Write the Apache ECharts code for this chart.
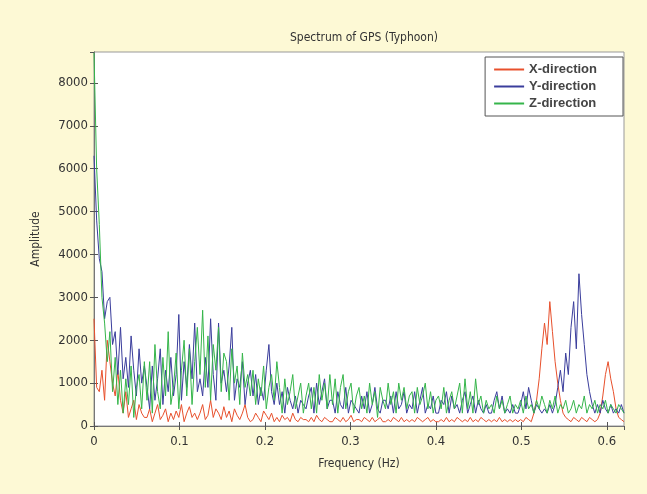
<!DOCTYPE html>
<html>
<head>
<meta charset="utf-8">
<style>
  html, body { margin: 0; padding: 0; background: #fdf9d5; }
  #chart { width: 647px; height: 494px; }
</style>
<script src="https://cdn.jsdelivr.net/npm/echarts@6/dist/echarts.min.js"></script>
</head>
<body>
<div id="chart"></div>
<script>
// frequency bin width (Hz), 201 bins from 0 to 0.62
var df = 0.0031

// X-direction amplitude, one row = 10 bins
var xDir = [
  2500, 900, 800, 1300, 600, 2000, 1500, 1000, 700, 1300,
  600, 300, 800, 200, 400, 600, 150, 500, 300, 200,
  200, 400, 100, 300, 500, 150, 250, 400, 100, 300,
  150, 350, 200, 500, 100, 300, 450, 200, 300, 150,
  300, 500, 150, 250, 600, 200, 400, 300, 150, 450,
  200, 350, 100, 400, 250, 150, 300, 500, 200, 100,
  150, 300, 200, 100, 350, 250, 150, 300, 100, 200,
  100, 250, 150, 200, 100, 300, 150, 100, 200, 150,
  150, 100, 200, 100, 250, 150, 100, 200, 150, 100,
  100, 200, 150, 100, 200, 100, 150, 250, 100, 150,
  150, 100, 200, 150, 100, 200, 100, 150, 200, 100,
  100, 150, 100, 200, 150, 100, 200, 100, 150, 100,
  150, 100, 200, 150, 100, 150, 200, 100, 150, 100,
  100, 150, 100, 200, 100, 150, 100, 200, 150, 100,
  150, 100, 200, 100, 150, 100, 200, 150, 100, 150,
  100, 150, 100, 200, 100, 150, 100, 150, 100, 150,
  100, 150, 100, 200, 150, 100, 300, 600, 1100, 1800,
  2400, 1900, 2900, 2200, 1500, 1000, 600, 300, 200, 150,
  100, 200, 150, 100, 200, 150, 100, 200, 150, 100,
  150, 300, 700, 1200, 1500, 1100, 800, 400, 200, 150,
  100
]

// Y-direction amplitude
var yDir = [
  6300, 4800, 3900, 3600, 2500, 2900, 3000, 1900, 2200, 1200,
  2300, 1100, 1600, 900, 2100, 1300, 700, 1800, 1000, 1400,
  900, 400, 1400, 600, 1100, 1800, 500, 1300, 800, 1600,
  700, 1200, 2600, 600, 1500, 900, 1900, 1100, 2400, 800,
  1100, 700, 1600, 900, 2500, 1200, 600, 2400, 1000, 1300,
  800, 1400, 2300, 600, 1100, 900, 1500, 500, 1000, 1300,
  700, 1200, 500, 900, 600, 1300, 1900, 800, 500, 1000,
  500, 800, 300, 900, 600, 400, 700, 300, 600, 500,
  400, 700, 900, 300, 1000, 500, 800, 1100, 400, 600,
  600, 300, 800, 500, 400, 900, 300, 600, 500, 400,
  300, 700, 400, 800, 300, 500, 900, 400, 300, 600,
  600, 400, 700, 300, 800, 400, 500, 800, 300, 500,
  400, 800, 300, 600, 900, 300, 500, 400, 700, 300,
  300, 600, 500, 800, 300, 700, 400, 500, 300, 600,
  800, 300, 500, 700, 300, 600, 400, 300, 500, 300,
  300, 600, 800, 400, 700, 300, 400, 300, 500, 300,
  300, 500, 800, 400, 900, 600, 300, 500, 400, 300,
  400, 300, 500, 300, 500, 900, 1300, 800, 1700, 1200,
  2300, 2900, 1800, 3550, 2600, 1900, 1200, 800, 500, 300,
  500, 300, 600, 400, 300, 500, 300, 400, 300, 500,
  300
]

// Z-direction amplitude
var zDir = [
  8700, 6000, 4700, 3000, 2400, 1500, 2200, 800, 1600, 500,
  1300, 300, 1100, 500, 1400, 200, 900, 1200, 400, 1500,
  600, 1500, 300, 1900, 800, 400, 1600, 700, 2200, 500,
  900, 1700, 400, 1300, 2000, 700, 1800, 500, 1500, 2300,
  1200, 2700, 900, 2100, 600, 1900, 1300, 2300, 800, 1700,
  1500, 600, 1800, 1000, 1400, 500, 1700, 900, 1200, 700,
  1300, 500, 1100, 700, 1400, 400, 900, 1200, 600, 1500,
  900, 300, 1100, 500, 800, 1200, 400, 700, 1000, 300,
  700, 1000, 400, 900, 300, 1200, 600, 1000, 400, 1200,
  500, 1100, 300, 900, 1200, 400, 800, 1000, 300, 700,
  900, 400, 700, 300, 1000, 500, 800, 200, 900, 600,
  400, 1000, 500, 800, 300, 1000, 600, 900, 400, 700,
  800, 300, 900, 500, 700, 1000, 400, 800, 300, 600,
  700, 400, 900, 300, 600, 800, 400, 700, 1000, 300,
  1100, 400, 800, 300, 1100, 500, 700, 300, 600, 400,
  500, 300, 700, 400, 600, 300, 500, 700, 300, 500,
  400, 600, 300, 700, 400, 500, 300, 600, 400, 700,
  500, 300, 600, 400, 700, 300, 500, 400, 600, 300,
  400, 600, 300, 500, 400, 700, 300, 500, 400, 600,
  300, 500, 400, 600, 300, 500, 400, 300, 500, 400,
  300
]

var seriesNames = ['X-direction', 'Y-direction', 'Z-direction']
var seriesColors = ['#e8502c', '#3a3d9c', '#35b54a']

function toPairs(values) {
  return values.map(function(v, i) {
    return [+(i * df).toFixed(4), v]
  })
}

var font = '"DejaVu Sans Condensed", "Liberation Sans Narrow", sans-serif'
var chart = echarts.init(document.getElementById('chart'))

var axisLineStyle = { show: true, lineStyle: { color: '#777', width: 1 } }
var tickStyle = { show: true, inside: true, length: 4, lineStyle: { color: '#555' } }

chart.setOption({
  animation: false,
  backgroundColor: '#fdf9d5',
  title: {
    text: 'Spectrum of GPS (Typhoon)',
    left: 359,
    top: 27,
    textAlign: 'center',
    textStyle: { fontFamily: font, fontSize: 12, fontWeight: 'normal', color: '#333' }
  },
  grid: {
    left: 94,
    right: 23,
    top: 52,
    bottom: 68,
    show: true,
    backgroundColor: '#fff',
    borderColor: '#999'
  },
  legend: {
    orient: 'vertical',
    right: 24,
    top: 57,
    backgroundColor: '#fff',
    borderColor: '#555',
    borderWidth: 1,
    padding: [6, 26, 6, 8],
    itemWidth: 30,
    itemHeight: 13,
    itemGap: 4,
    itemStyle: { opacity: 0 },
    textStyle: { fontFamily: 'Liberation Sans, Arial, sans-serif', fontSize: 13, fontWeight: 'bold', color: '#444' },
    data: seriesNames
  },
  xAxis: [
    {
      type: 'value',
      min: 0,
      max: 0.62,
      interval: 0.1,
      name: 'Frequency (Hz)',
      nameLocation: 'middle',
      nameGap: 32,
      nameTextStyle: { fontFamily: font, fontSize: 12, color: '#333' },
      axisLine: axisLineStyle,
      axisTick: tickStyle,
      splitLine: { show: false },
      axisLabel: { fontFamily: font, fontSize: 13, color: '#333', margin: 9, showMaxLabel: false }
    },
    {
      type: 'value',
      position: 'top',
      min: 0,
      max: 0.62,
      interval: 0.1,
      axisLine: axisLineStyle,
      axisTick: tickStyle,
      splitLine: { show: false },
      axisLabel: { show: false }
    }
  ],
  yAxis: [
    {
      type: 'value',
      min: 0,
      max: 8720,
      interval: 1000,
      name: 'Amplitude',
      nameLocation: 'middle',
      nameGap: 52,
      nameTextStyle: { fontFamily: font, fontSize: 12, color: '#333' },
      axisLine: axisLineStyle,
      axisTick: tickStyle,
      splitLine: { show: false },
      axisLabel: {
        fontFamily: font, fontSize: 13, color: '#333', margin: 6, showMaxLabel: false,
        formatter: function(v) { return String(v) }
      }
    },
    {
      type: 'value',
      position: 'right',
      min: 0,
      max: 8720,
      interval: 1000,
      axisLine: axisLineStyle,
      axisTick: tickStyle,
      splitLine: { show: false },
      axisLabel: { show: false }
    }
  ],
  series: [xDir, yDir, zDir].map(function(values, k) {
    return {
      name: seriesNames[k],
      type: 'line',
      symbol: 'none',
      color: seriesColors[k],
      lineStyle: { width: 1, color: seriesColors[k] },
      data: toPairs(values)
    }
  })
})
</script>
</body>
</html>
